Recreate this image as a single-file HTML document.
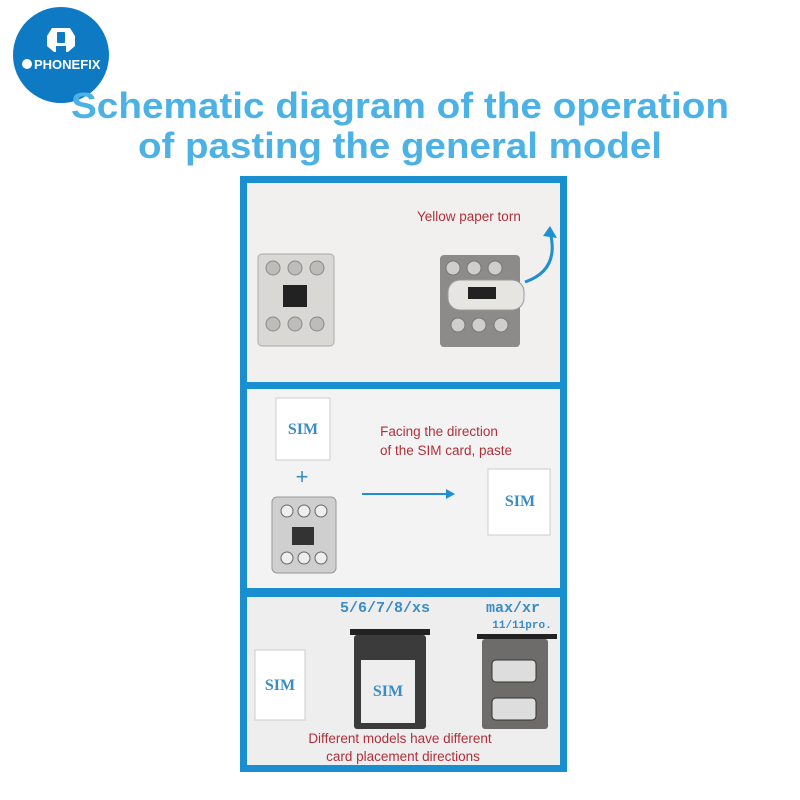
<!DOCTYPE html>
<html><head><meta charset="utf-8"><style>
body{margin:0;background:#fff}
svg{display:block}
</style></head><body>
<svg width="800" height="800" viewBox="0 0 800 800" xmlns="http://www.w3.org/2000/svg" font-family="Liberation Sans, sans-serif">
<rect width="800" height="800" fill="#fff"/>
<!-- logo -->
<circle cx="61" cy="55" r="48" fill="#0f7ac4"/>
<path d="M52 28 h18 l5 8 v10 l-7 6 h-2 v-6 h-10 v6 h-2 l-7 -6 v-10 z" fill="#fff"/>
<rect x="57" y="32" width="8" height="11" rx="1" fill="#0f7ac4"/>
<circle cx="27" cy="64" r="5" fill="#fff"/>
<text x="34" y="69" font-size="13" font-weight="bold" fill="#fff">PHONEFIX</text>
<!-- title -->
<text x="400" y="118" text-anchor="middle" font-size="36" font-weight="bold" fill="#4cb2e6" textLength="658" lengthAdjust="spacingAndGlyphs">Schematic diagram of the operation</text>
<text x="400" y="158" text-anchor="middle" font-size="36" font-weight="bold" fill="#4cb2e6" textLength="524" lengthAdjust="spacingAndGlyphs">of pasting the general model</text>
<!-- frame -->
<rect x="240" y="176" width="327" height="596" fill="#1a8fd0"/>
<rect x="247" y="183" width="313" height="199" fill="#f1f0ee"/>
<rect x="247" y="389" width="313" height="199" fill="#f3f3f3"/>
<rect x="247" y="597" width="313" height="168" fill="#eeeeee"/>
<!-- panel 1 -->
<text x="417" y="221" font-size="13.5" fill="#b0303a">Yellow paper torn</text>
<path d="M525 282 Q560 270 550 232" stroke="#1e8fd0" stroke-width="3" fill="none"/>
<path d="M543 236 L550 226 L557 238 Z" fill="#1e8fd0"/>
<rect x="258" y="254" width="76" height="92" rx="4" fill="#d9d8d5" stroke="#aaa"/>
<g fill="#bdbcb8" stroke="#888"><circle cx="273" cy="268" r="7"/><circle cx="295" cy="268" r="7"/><circle cx="317" cy="268" r="7"/><circle cx="273" cy="324" r="7"/><circle cx="295" cy="324" r="7"/><circle cx="317" cy="324" r="7"/></g>
<rect x="283" y="285" width="24" height="22" fill="#222"/>
<rect x="440" y="255" width="80" height="92" rx="4" fill="#8c8b89"/>
<g fill="#cfcecb" stroke="#777"><circle cx="453" cy="268" r="7"/><circle cx="474" cy="268" r="7"/><circle cx="495" cy="268" r="7"/><circle cx="458" cy="325" r="7"/><circle cx="479" cy="325" r="7"/><circle cx="501" cy="325" r="7"/></g>
<rect x="448" y="280" width="76" height="30" rx="12" fill="#e6e5e2" stroke="#999"/>
<rect x="468" y="287" width="28" height="12" fill="#222"/>
<!-- panel 2 -->
<rect x="276" y="398" width="54" height="62" fill="#fff" stroke="#ccc"/>
<text x="303" y="434" text-anchor="middle" font-family="Liberation Serif, serif" font-weight="bold" font-size="16" fill="#3a8cc6">SIM</text>
<text x="302" y="484" text-anchor="middle" font-size="22" fill="#3a8cc6">+</text>
<rect x="272" y="497" width="64" height="76" rx="5" fill="#cfcfcf" stroke="#999"/>
<g fill="#eee" stroke="#666"><circle cx="287" cy="511" r="6"/><circle cx="304" cy="511" r="6"/><circle cx="321" cy="511" r="6"/><circle cx="287" cy="558" r="6"/><circle cx="304" cy="558" r="6"/><circle cx="321" cy="558" r="6"/></g>
<rect x="292" y="527" width="22" height="18" fill="#333"/>
<text x="439" y="436" text-anchor="middle" font-size="13.5" fill="#b0303a">Facing the direction</text>
<text x="446" y="455" text-anchor="middle" font-size="13.5" fill="#b0303a">of the SIM card, paste</text>
<line x1="362" y1="494" x2="446" y2="494" stroke="#1e8fd0" stroke-width="2"/>
<path d="M446 489 L455 494 L446 499 Z" fill="#1e8fd0"/>
<rect x="488" y="469" width="62" height="66" fill="#fff" stroke="#ccc"/>
<text x="520" y="506" text-anchor="middle" font-family="Liberation Serif, serif" font-weight="bold" font-size="16" fill="#3a8cc6">SIM</text>
<!-- panel 3 -->
<text x="385" y="612" text-anchor="middle" font-family="Liberation Mono, monospace" font-weight="bold" font-size="15" fill="#3a8cc6">5/6/7/8/xs</text>
<text x="513" y="612" text-anchor="middle" font-family="Liberation Mono, monospace" font-weight="bold" font-size="15" fill="#3a8cc6">max/xr</text>
<text x="522" y="628" text-anchor="middle" font-family="Liberation Mono, monospace" font-weight="bold" font-size="11" fill="#3a8cc6">11/11pro.</text>
<rect x="255" y="650" width="50" height="70" fill="#fff" stroke="#ccc"/>
<text x="280" y="690" text-anchor="middle" font-family="Liberation Serif, serif" font-weight="bold" font-size="16" fill="#3a8cc6">SIM</text>
<rect x="350" y="629" width="80" height="6" fill="#222"/>
<rect x="354" y="635" width="72" height="94" rx="3" fill="#3b3b3b"/>
<rect x="361" y="660" width="54" height="63" fill="#eeeeee"/>
<text x="388" y="696" text-anchor="middle" font-family="Liberation Serif, serif" font-weight="bold" font-size="16" fill="#3a8cc6">SIM</text>
<rect x="477" y="634" width="80" height="5" fill="#222"/>
<rect x="482" y="639" width="66" height="90" rx="3" fill="#6d6c6a"/>
<rect x="492" y="660" width="44" height="22" rx="4" fill="#ddd" stroke="#333"/>
<rect x="492" y="698" width="44" height="22" rx="4" fill="#ddd" stroke="#333"/>
<text x="400" y="743" text-anchor="middle" font-size="13.5" fill="#b0303a">Different models have different</text>
<text x="403" y="761" text-anchor="middle" font-size="13.5" fill="#b0303a">card placement directions</text>
</svg>
</body></html>
